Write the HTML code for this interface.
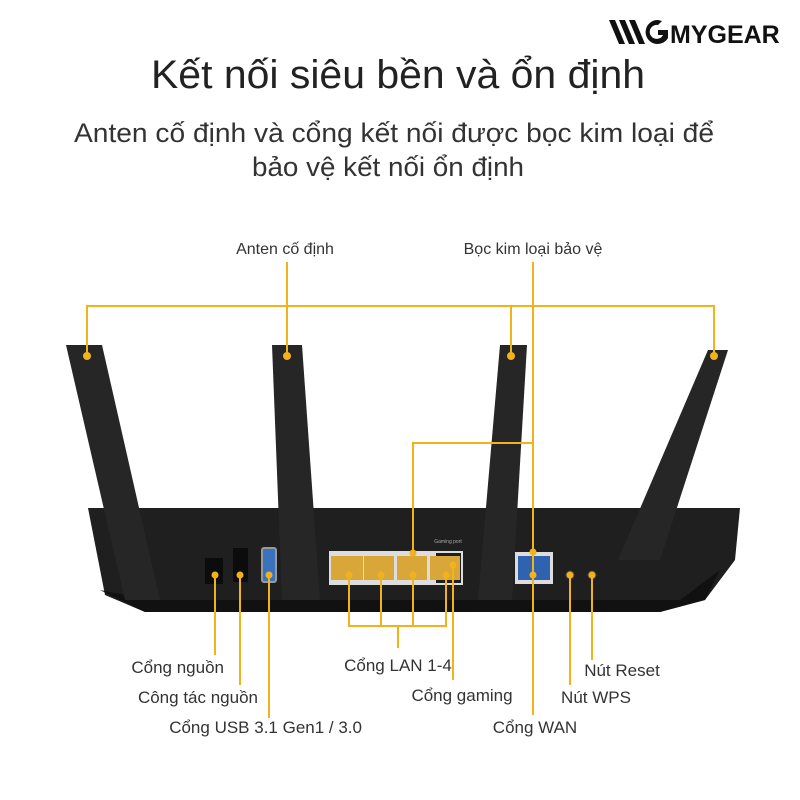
<!DOCTYPE html>
<html><head><meta charset="utf-8"><style>
body{margin:0;background:#fff;}
svg{display:block;font-family:"Liberation Sans",sans-serif;}
</style></head><body>
<svg width="800" height="800" viewBox="0 0 800 800" xmlns="http://www.w3.org/2000/svg">
<rect width="800" height="800" fill="#fff"/>
<!-- logo -->
<g fill="#111">
<path d="M609 20 l6 0 l10 24 l-6 0z M619 20 l6 0 l10 24 l-6 0z M629 20 l6 0 l10 24 l-6 0z"/>
<path d="M658 20 a12 12 0 1 0 10 18 l0 -8 l-10 0 l0 5 l5 0 a7 7 0 1 1 -5 -10 l4 -4 z"/>
<text x="670" y="43" font-size="25" font-weight="bold">MYGEAR</text>
</g>
<text x="398" y="88" text-anchor="middle" font-size="40" fill="#222" textLength="494" lengthAdjust="spacingAndGlyphs">Kết nối siêu bền và ổn định</text>
<text x="394" y="142" text-anchor="middle" font-size="27" fill="#333" textLength="640" lengthAdjust="spacingAndGlyphs">Anten cố định và cổng kết nối được bọc kim loại để</text>
<text x="388" y="176" text-anchor="middle" font-size="27" fill="#333" textLength="272" lengthAdjust="spacingAndGlyphs">bảo vệ kết nối ổn định</text>
<text x="285" y="254" text-anchor="middle" font-size="16" fill="#333">Anten cố định</text>
<text x="533" y="254" text-anchor="middle" font-size="16" fill="#333">Bọc kim loại bảo vệ</text>

<!-- router body -->
<path d="M88 508 L740 508 L735 560 L705 600 L660 612 L145 612 L105 595 Z" fill="#1f1f1f"/>
<path d="M100 590 L150 600 L680 600 L720 570 L705 600 L660 612 L145 612 Z" fill="#111"/>
<!-- antennas -->
<path d="M66 345 L102 345 L160 600 L125 600 Z" fill="#262626"/>
<path d="M272 345 L302 345 L320 600 L282 600 Z" fill="#262626"/>
<path d="M500 345 L527 345 L512 600 L478 600 Z" fill="#262626"/>
<path d="M708 350 L728 350 L660 560 L618 560 Z" fill="#262626"/>
<!-- ports -->
<rect x="205" y="558" width="18" height="26" fill="#0c0c0c"/>
<rect x="233" y="548" width="15" height="34" fill="#0c0c0c"/>
<rect x="262" y="548" width="14" height="34" rx="2" fill="#3a72c0" stroke="#999" stroke-width="2"/>
<rect x="330" y="552" width="106" height="32" fill="#ddd"/>
<rect x="331" y="556" width="32" height="24" fill="#d9a63a"/>
<rect x="364" y="556" width="30" height="24" fill="#d9a63a"/>
<rect x="397" y="556" width="30" height="24" fill="#d9a63a"/>
<rect x="430" y="556" width="30" height="24" fill="#d9a63a"/>
<rect x="330" y="552" width="132" height="32" fill="none" stroke="#ddd" stroke-width="2"/>
<text x="448" y="543" text-anchor="middle" font-size="5" fill="#aaa">Gaming port</text>
<rect x="515" y="552" width="38" height="32" fill="#ddd"/>
<rect x="518" y="556" width="32" height="24" fill="#2f63b0"/>
<circle cx="570" cy="575" r="4" fill="#000" stroke="#444"/>
<circle cx="592" cy="575" r="4" fill="#000" stroke="#444"/>

<!-- yellow lines -->
<g stroke="#f2b21b" stroke-width="2" fill="none">
<path d="M87 356 V306 H714 V356"/>
<path d="M287 356 V262"/>
<path d="M511 356 V306"/>
<path d="M533 262 V715"/>
<path d="M533 443 H413 V553"/>
<path d="M215 575 V655"/>
<path d="M240 575 V685"/>
<path d="M269 575 V718"/>
<path d="M349 575 V626 H446 V575 M381 575 V626 M413 575 V626 M398 626 V648"/>
<path d="M453 565 V680"/>
<path d="M570 575 V685"/>
<path d="M592 575 V660"/>
</g>
<g fill="#f2b21b">
<circle cx="87" cy="356" r="4"/><circle cx="287" cy="356" r="4"/><circle cx="511" cy="356" r="4"/><circle cx="714" cy="356" r="4"/>
<circle cx="413" cy="553" r="3.5"/><circle cx="533" cy="552" r="3.5"/>
<circle cx="215" cy="575" r="3.5"/><circle cx="240" cy="575" r="3.5"/><circle cx="269" cy="575" r="3.5"/>
<circle cx="349" cy="575" r="3.5"/><circle cx="381" cy="575" r="3.5"/><circle cx="413" cy="575" r="3.5"/><circle cx="446" cy="575" r="3.5"/>
<circle cx="453" cy="565" r="3.5"/><circle cx="533" cy="575" r="3.5"/><circle cx="570" cy="575" r="3.5"/><circle cx="592" cy="575" r="3.5"/>
</g>
<g font-size="17" fill="#333">
<text x="224" y="673" text-anchor="end">Cổng nguồn</text>
<text x="258" y="703" text-anchor="end">Công tác nguồn</text>
<text x="362" y="733" text-anchor="end">Cổng USB 3.1 Gen1 / 3.0</text>
<text x="398" y="671" text-anchor="middle">Cổng LAN 1-4</text>
<text x="462" y="701" text-anchor="middle">Cổng gaming</text>
<text x="535" y="733" text-anchor="middle">Cổng WAN</text>
<text x="596" y="703" text-anchor="middle">Nút WPS</text>
<text x="622" y="676" text-anchor="middle">Nút Reset</text>
</g>
</svg>
</body></html>
